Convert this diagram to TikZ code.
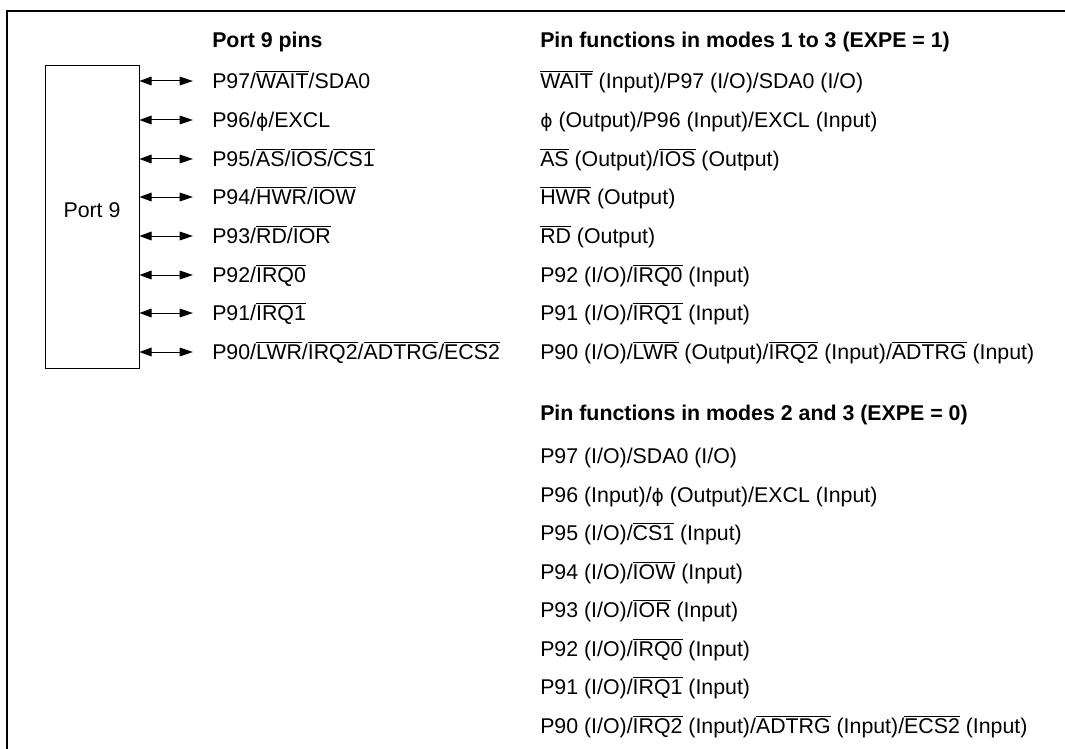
\documentclass[tikz,border=0pt]{standalone}
\usepackage{fontspec}
\setmainfont{Liberation Sans}
\newfontfamily\dvs{DejaVu Sans}
\usetikzlibrary{arrows.meta}
\newcommand{\ovl}[1]{{\setbox0\hbox{#1}\rlap{\raisebox{\dimexpr\ht0+1.6pt\relax}{\rule{\wd0}{0.75pt}}}\box0}}
\newcommand{\phisym}{{\dvs\fontsize{14pt}{18pt}\selectfont ϕ}}
\begin{document}
\begin{tikzpicture}[x=0.75pt,y=-0.75pt,
  every node/.style={font=\fontsize{16pt}{19pt}\selectfont},
  lbl/.style={anchor=west, inner sep=0pt, text height=11.5pt, text depth=0pt},
  hdr/.style={lbl, font=\fontsize{16pt}{19pt}\selectfont\bfseries},
  biarrow/.style={line width=0.75pt, {Triangle[length=9pt,width=6.5pt]}-{Triangle[length=10pt,width=6.5pt]}},
  frame/.style={line width=1.5pt},
  portbox/.style={draw, line width=0.75pt, minimum width=70.5pt, minimum height=226.5pt, inner sep=0pt}]
\useasboundingbox (0,0) rectangle (1065,749);
\draw[frame] (1065,11) -- (7,11) -- (7,749);
\node[portbox] (port) at (92,217) {};
\node (portlbl) at (92,210) {Port 9};
% headers
\node[hdr] (h1) at (212,40) {Port 9 pins};
\node[hdr] (h2) at (540,40) {Pin functions in modes 1 to 3 (EXPE = 1)};
\node[hdr] (h3) at (540,413) {Pin functions in modes 2 and 3 (EXPE = 0)};
% left pins
\node[lbl] (p7) at (212,81)  {P97/\ovl{WAIT}/SDA0};
\node[lbl] (p6) at (212,120) {P96/\phisym/EXCL};
\node[lbl] (p5) at (212,159) {P95/\ovl{AS}/\ovl{IOS}/\ovl{CS1}};
\node[lbl] (p4) at (212,197) {P94/\ovl{HWR}/\ovl{IOW}};
\node[lbl] (p3) at (212,236) {P93/\ovl{RD}/\ovl{IOR}};
\node[lbl] (p2) at (212,275) {P92/\ovl{IRQ0}};
\node[lbl] (p1) at (212,313) {P91/\ovl{IRQ1}};
\node[lbl] (p0) at (212,352) {P90/\ovl{LWR}/\ovl{IRQ2}/\ovl{ADTRG}/\ovl{ECS2}};
\foreach \k in {0,...,7}
  \draw[biarrow] (port.east |- p\k.west) -- ([xshift=-14.25pt]p\k.west);
% modes 1 to 3
\node[lbl] (a7) at (540,81)  {\ovl{WAIT} (Input)/P97 (I/O)/SDA0 (I/O)};
\node[lbl] (a6) at (540,120) {\phisym{} (Output)/P96 (Input)/EXCL (Input)};
\node[lbl] (a5) at (540,159) {\ovl{AS} (Output)/\ovl{IOS} (Output)};
\node[lbl] (a4) at (540,197) {\ovl{HWR} (Output)};
\node[lbl] (a3) at (540,236) {\ovl{RD} (Output)};
\node[lbl] (a2) at (540,275) {P92 (I/O)/\ovl{IRQ0} (Input)};
\node[lbl] (a1) at (540,313) {P91 (I/O)/\ovl{IRQ1} (Input)};
\node[lbl] (a0) at (540,352) {P90 (I/O)/\ovl{LWR} (Output)/\ovl{IRQ2} (Input)/\ovl{ADTRG} (Input)};
% modes 2 and 3
\node[lbl] (b7) at (540,456) {P97 (I/O)/SDA0 (I/O)};
\node[lbl] (b6) at (540,495) {P96 (Input)/\phisym{} (Output)/EXCL (Input)};
\node[lbl] (b5) at (540,533) {P95 (I/O)/\ovl{CS1} (Input)};
\node[lbl] (b4) at (540,572) {P94 (I/O)/\ovl{IOW} (Input)};
\node[lbl] (b3) at (540,610) {P93 (I/O)/\ovl{IOR} (Input)};
\node[lbl] (b2) at (540,649) {P92 (I/O)/\ovl{IRQ0} (Input)};
\node[lbl] (b1) at (540,687) {P91 (I/O)/\ovl{IRQ1} (Input)};
\node[lbl] (b0) at (540,726) {P90 (I/O)/\ovl{IRQ2} (Input)/\ovl{ADTRG} (Input)/\ovl{ECS2} (Input)};
\end{tikzpicture}
\end{document}
